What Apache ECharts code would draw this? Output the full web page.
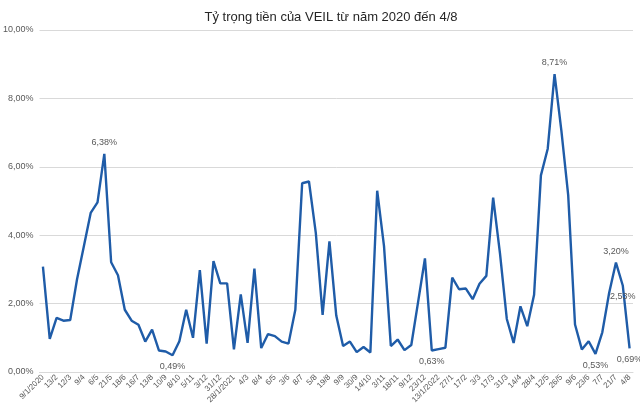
<!DOCTYPE html>
<html>
<head>
<meta charset="utf-8">
<script src="https://cdn.jsdelivr.net/npm/echarts@6/dist/echarts.min.js"></script>
<style>
html,body{margin:0;padding:0;background:#fff;}
#chart{width:640px;height:408px;}
</style>
</head>
<body>
<div id="chart"></div>
<script>
// Tick labels shown on the x axis (every other data point)
const tickLabels = ['9/1/2020','13/2','12/3','9/4','6/5','21/5','18/6','16/7','13/8','10/9','8/10','5/11','3/12','31/12','28/1/2021','4/3','8/4','6/5','3/6','8/7','5/8','19/8','9/9','30/9','14/10','3/11','18/11','9/12','23/12','13/1/2022','27/1','17/2','3/3','17/3','31/3','14/4','28/4','12/5','26/5','9/6','23/6','7/7','21/7','4/8'];

// Cash share of VEIL (%), one value per observation
const cashShare = [3.08, 0.97, 1.58, 1.50, 1.52, 2.71, 3.68, 4.65, 4.96, 6.38,
  3.21, 2.83, 1.82, 1.50, 1.38, 0.89, 1.24, 0.63, 0.60, 0.49,
  0.90, 1.82, 1.00, 2.98, 0.83, 3.24, 2.59, 2.59, 0.66, 2.27,
  0.85, 3.02, 0.70, 1.11, 1.05, 0.89, 0.83, 1.82, 5.52, 5.57,
  4.07, 1.67, 3.82, 1.65, 0.76, 0.89, 0.58, 0.73, 0.57, 5.30,
  3.68, 0.76, 0.95, 0.64, 0.79, 2.05, 3.32, 0.63, 0.67, 0.71,
  2.76, 2.42, 2.44, 2.13, 2.58, 2.81, 5.10, 3.47, 1.55, 0.85,
  1.92, 1.34, 2.26, 5.75, 6.53, 8.71, 7.06, 5.17, 1.39, 0.66,
  0.90, 0.53, 1.16, 2.31, 3.20, 2.53, 0.69];

// Points that carry a data label
const labelledTop = [9, 75, 84];
const labelledBottom = [19, 57, 81, 85, 86];

// Categories: labelled dates at even positions, unlabelled observations between
const categories = [];
tickLabels.forEach((t, i) => {
  categories.push(t);
  if (i < tickLabels.length - 1) categories.push('');
});

const fmt = v => v.toFixed(2).replace('.', ',') + '%';
const FONT = 'Liberation Sans';

const seriesData = cashShare.map((v, i) => {
  if (labelledTop.includes(i)) return {value: v, label: {show: true, position: 'top'}};
  if (labelledBottom.includes(i)) return {value: v, label: {show: true, position: 'bottom'}};
  return v;
});

const chart = echarts.init(document.getElementById('chart'), null, {renderer: 'canvas'});
chart.setOption({
  animation: false,
  backgroundColor: '#ffffff',
  title: {
    text: 'Tỷ trọng tiền của VEIL từ năm 2020 đến 4/8',
    left: 326, top: 6, textAlign: 'center',
    textStyle: {fontFamily: FONT, fontSize: 13, fontWeight: 'normal', color: '#262626'}
  },
  grid: {left: 38, right: 7, top: 30, bottom: 36, containLabel: false},
  xAxis: {
    type: 'category',
    data: categories,
    boundaryGap: true,
    axisLine: {show: true, lineStyle: {color: '#d9d9d9', width: 1}},
    axisTick: {show: false},
    axisLabel: {
      interval: 1, rotate: 45, margin: 4,
      fontFamily: FONT, fontSize: 8, color: '#595959'
    },
    splitLine: {show: false}
  },
  yAxis: {
    type: 'value',
    min: 0, max: 10, interval: 2,
    axisLine: {show: false},
    axisTick: {show: false},
    axisLabel: {formatter: fmt, fontFamily: FONT, fontSize: 9, color: '#595959', margin: 6},
    splitLine: {lineStyle: {color: '#d9d9d9', width: 1}}
  },
  series: [{
    type: 'line',
    data: seriesData,
    showSymbol: true,
    symbol: 'circle',
    symbolSize: 0,
    lineStyle: {color: '#1f5ca8', width: 2.4},
    itemStyle: {color: '#1f5ca8'},
    label: {
      show: false,
      formatter: p => fmt(p.value),
      fontFamily: FONT, fontSize: 9, color: '#595959', distance: 7
    }
  }]
});
</script>
</body>
</html>
